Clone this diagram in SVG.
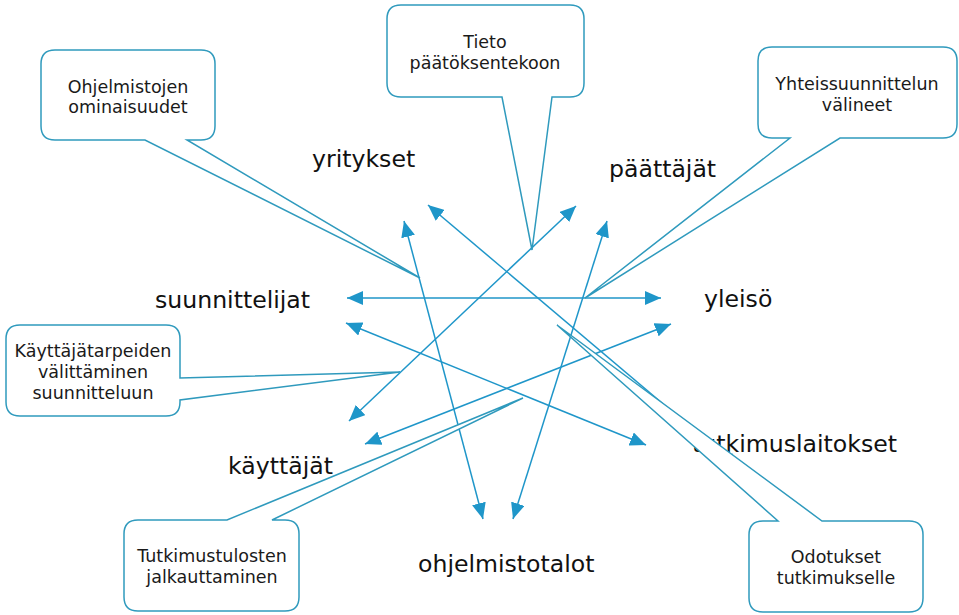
<svg xmlns="http://www.w3.org/2000/svg" width="959" height="615" viewBox="0 0 959 615">
<defs>
<marker id="ah" viewBox="0 0 16 14" refX="16" refY="7" markerWidth="16" markerHeight="14" markerUnits="userSpaceOnUse" orient="auto-start-reverse">
<path d="M0,0 L16,7 L0,14 Z" fill="#1f96c9"/>
</marker>
</defs>
<style>
.arr{stroke:#1f96c9;stroke-width:1.5;fill:none;marker-start:url(#ah);marker-end:url(#ah)}
.lbl{font-family:"DejaVu Sans",Verdana,sans-serif;font-size:23.6px;fill:#111}
.co path{fill:#fff;stroke:#2f9abd;stroke-width:1.5;stroke-linejoin:miter}
.co text{font-family:"DejaVu Sans",Verdana,sans-serif;font-size:17.5px;fill:#1a1a1a;text-anchor:middle}
</style>
<rect width="959" height="615" fill="#fff"/>
<g id="connectors">
<line class="arr" x1="347" y1="298" x2="661" y2="298"/>
<line class="arr" x1="404" y1="221" x2="483" y2="519"/>
<line class="arr" x1="428" y1="205" x2="740" y2="469"/>
<line class="arr" x1="349" y1="421" x2="576" y2="206"/>
<line class="arr" x1="607" y1="221" x2="513" y2="519"/>
<line class="arr" x1="346" y1="323" x2="646" y2="445"/>
<line class="arr" x1="365" y1="444" x2="671" y2="324"/>
</g>
<g id="yritykset"><text class="lbl" x="312" y="167">yritykset</text></g>
<g id="paattajat"><text class="lbl" x="609" y="177">päättäjät</text></g>
<g id="suunnittelijat"><text class="lbl" x="155" y="308">suunnittelijat</text></g>
<g id="yleiso"><text class="lbl" x="704" y="307">yleisö</text></g>
<g id="kayttajat"><text class="lbl" x="228" y="474">käyttäjät</text></g>
<g id="tutkimuslaitokset"><text class="lbl" x="897" y="452" text-anchor="end">tutkimuslaitokset</text></g>
<g id="ohjelmistotalot"><text class="lbl" x="418" y="572">ohjelmistotalot</text></g>
<g id="callout-ohjelmistojen" class="co">
<path d="M55,50 H201 Q215,50 215,64 V126 Q215,140 201,140 H187 L420,278 L145,140 H55 Q41,140 41,126 V64 Q41,50 55,50 Z"/>
<text x="128" y="93">Ohjelmistojen</text>
<text x="128" y="113">ominaisuudet</text>
</g>
<g id="callout-tieto" class="co">
<path d="M401,5 H570 Q584,5 584,19 V83 Q584,97 570,97 H552 L532,250 L502,97 H401 Q387,97 387,83 V19 Q387,5 401,5 Z"/>
<text x="485" y="48">Tieto</text>
<text x="485" y="69">päätöksentekoon</text>
</g>
<g id="callout-yhteis" class="co">
<path d="M772,47 H943 Q957,47 957,61 V124 Q957,138 943,138 H840 L585,298 L790,138 H772 Q758,138 758,124 V61 Q758,47 772,47 Z"/>
<text x="857" y="90">Yhteissuunnittelun</text>
<text x="857" y="111">välineet</text>
</g>
<g id="callout-kayttajatarpeiden" class="co">
<path d="M20,325 H166 Q180,325 180,339 V378 L400,372 L180,400 V402 Q180,416 166,416 H20 Q6,416 6,402 V339 Q6,325 20,325 Z"/>
<text x="93" y="357">Käyttäjätarpeiden</text>
<text x="93" y="378">välittäminen</text>
<text x="93" y="399">suunnitteluun</text>
</g>
<g id="callout-tutkimustulosten" class="co">
<path d="M138,520 H227 L523,398 L272,520 H285 Q299,520 299,534 V597 Q299,611 285,611 H138 Q124,611 124,597 V534 Q124,520 138,520 Z"/>
<text x="212" y="562">Tutkimustulosten</text>
<text x="212" y="583">jalkauttaminen</text>
</g>
<g id="callout-odotukset" class="co">
<path d="M763,521 H778 L557,325 L822,521 H909 Q923,521 923,535 V598 Q923,612 909,612 H763 Q749,612 749,598 V535 Q749,521 763,521 Z"/>
<text x="836" y="563">Odotukset</text>
<text x="836" y="584">tutkimukselle</text>
</g>
</svg>
